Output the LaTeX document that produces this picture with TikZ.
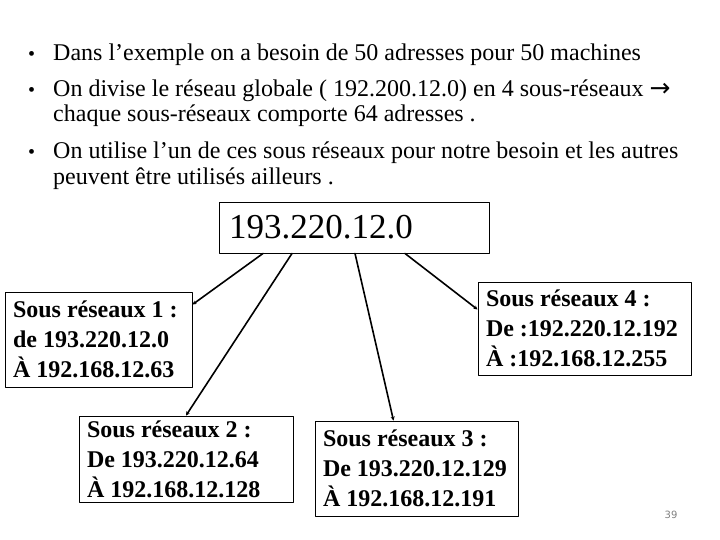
\documentclass[tikz,border=0pt]{standalone}
\usepackage{fontspec}
\setmainfont{Liberation Serif}
\newfontfamily\arrowfont{DejaVu Sans}
\newfontfamily\numfont{DejaVu Sans}
\usetikzlibrary{arrows.meta}

\begin{document}
\begin{tikzpicture}[
    x=1pt, y=-1pt,
    >=Stealth,
    line cap=round,
    line join=round,
    bullettext/.style={anchor=base west, inner sep=0pt,
        font=\fontsize{24}{24}\selectfont},
    subnet/.style={draw, line width=0.9pt, inner xsep=8pt, inner ysep=0pt,
        align=flush left, font=\fontsize{24}{30}\selectfont\bfseries},
    link/.style={line width=1.6pt, -{Stealth[length=4pt,width=4pt]}}
]

% Page frame
\useasboundingbox (0,0) rectangle (720,540);

% Bullet list
\foreach \y in {61,97,159}
    \node[bullettext, font=\fontsize{20}{20}\selectfont] at (28,\y) {•};
\node[bullettext] (b1) at (53,61)
    {Dans l’exemple on a besoin de 50 adresses pour 50 machines};
\node[bullettext] (b2a) at (53,97)
    {On divise le réseau globale ( 192.200.12.0) en 4 sous-réseaux {\arrowfont\fontsize{25}{25}\selectfont →}};
\node[bullettext] (b2b) at (53,122)
    {chaque sous-réseaux comporte 64 adresses .};
\node[bullettext] (b3a) at (53,159)
    {On utilise l’un de ces sous réseaux pour notre besoin et les autres};
\node[bullettext] (b3b) at (53,185)
    {peuvent être utilisés ailleurs .};

% Global network
\node[draw, line width=0.9pt, minimum width=270pt, minimum height=51pt,
      text width=250pt, inner xsep=10pt, align=flush left,
      font=\fontsize{35}{35}\selectfont] (global) at (354,227.5) {193.220.12.0};

% The four subnets
\node[subnet, minimum width=187pt, minimum height=95pt, text width=171pt]
    (sr1) at (98.5,339.5)
    {Sous réseaux 1 :\\ de 193.220.12.0\\ À 192.168.12.63};
\node[subnet, minimum width=214pt, minimum height=86pt, text width=198pt]
    (sr2) at (186,459)
    {Sous réseaux 2 :\\ De 193.220.12.64\\ À 192.168.12.128};
\node[subnet, minimum width=203pt, minimum height=95pt, text width=187pt]
    (sr3) at (416.5,468.5)
    {Sous réseaux 3 :\\ De 193.220.12.129\\ À 192.168.12.191};
\node[subnet, minimum width=213pt, minimum height=93pt, text width=197pt]
    (sr4) at (584.5,328.5)
    {Sous réseaux 4 :\\ De :192.220.12.192\\ À :192.168.12.255};

% Links from the global network
\draw[link] ([xshift=-91pt]global.south) -- ([yshift=-13pt]sr1.north east);
\draw[link] ([xshift=-62pt]global.south) -- (sr2.north);
\draw[link] ([xshift=1pt]global.south) -- ([xshift=-23pt]sr3.north);
\draw[link] ([xshift=51pt]global.south) -- ([yshift=19pt]sr4.west);

% Page number
\node[text=gray, font=\numfont\fontsize{10}{10}\selectfont] (page) at (671,515) {39};

\end{tikzpicture}
\end{document}
